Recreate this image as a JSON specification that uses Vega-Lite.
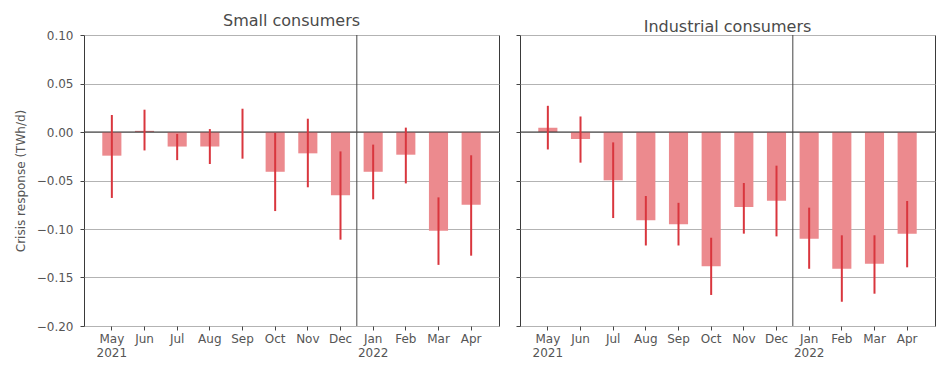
{
  "$schema": "https://vega.github.io/schema/vega-lite/v6.json",
  "padding": {"left": 13, "top": 12, "right": 5, "bottom": 5},
  "background": "white",
  "config": {
    "font": "DejaVu Sans",
    "view": {"stroke": "#3a3a3a", "strokeWidth": 1},
    "axis": {
      "labelFontSize": 12,
      "labelColor": "#555555",
      "titleColor": "#555555",
      "titleFontSize": 12,
      "titleFontWeight": "normal",
      "tickColor": "#444444",
      "tickSize": 4,
      "domain": false
    },
    "title": {"fontSize": 16, "fontWeight": "normal", "color": "#4a4a4a", "offset": 0, "dy": 4}
  },
  "datasets": {
    "small": [
      {"month": "May|2021", "value": -0.0244, "lo": -0.068, "hi": 0.0175},
      {"month": "Jun|", "value": 0.0012, "lo": -0.019, "hi": 0.023},
      {"month": "Jul|", "value": -0.015, "lo": -0.029, "hi": -0.002},
      {"month": "Aug|", "value": -0.015, "lo": -0.033, "hi": 0.003},
      {"month": "Sep|", "value": 0.0, "lo": -0.0275, "hi": 0.024},
      {"month": "Oct|", "value": -0.041, "lo": -0.0815, "hi": -0.001},
      {"month": "Nov|", "value": -0.022, "lo": -0.057, "hi": 0.0137},
      {"month": "Dec|", "value": -0.0653, "lo": -0.111, "hi": -0.02},
      {"month": "Jan|2022", "value": -0.041, "lo": -0.0694, "hi": -0.013},
      {"month": "Feb|", "value": -0.0234, "lo": -0.053, "hi": 0.0045},
      {"month": "Mar|", "value": -0.1017, "lo": -0.137, "hi": -0.0674},
      {"month": "Apr|", "value": -0.075, "lo": -0.1275, "hi": -0.024}
    ],
    "industrial": [
      {"month": "May|2021", "value": 0.0045, "lo": -0.018, "hi": 0.027},
      {"month": "Jun|", "value": -0.0072, "lo": -0.0316, "hi": 0.016},
      {"month": "Jul|", "value": -0.0498, "lo": -0.0887, "hi": -0.0107},
      {"month": "Aug|", "value": -0.091, "lo": -0.117, "hi": -0.066},
      {"month": "Sep|", "value": -0.095, "lo": -0.117, "hi": -0.073},
      {"month": "Oct|", "value": -0.1385, "lo": -0.168, "hi": -0.109},
      {"month": "Nov|", "value": -0.0773, "lo": -0.1048, "hi": -0.0526},
      {"month": "Dec|", "value": -0.0708, "lo": -0.1076, "hi": -0.0347},
      {"month": "Jan|2022", "value": -0.11, "lo": -0.141, "hi": -0.078},
      {"month": "Feb|", "value": -0.141, "lo": -0.175, "hi": -0.1065},
      {"month": "Mar|", "value": -0.1357, "lo": -0.1667, "hi": -0.1065},
      {"month": "Apr|", "value": -0.1048, "lo": -0.1395, "hi": -0.0711}
    ],
    "divider": [{"month": "Jan|2022"}],
    "zero": [{"v": 0}]
  },
  "spacing": 15,
  "hconcat": [
    {
      "title": "Small consumers",
      "width": 415,
      "height": 291,
      "layer": [
        {
          "data": {"name": "small"},
          "mark": {"type": "bar", "color": "#ec8a8e"},
          "encoding": {
            "x": {"field": "month", "type": "ordinal",
              "sort": ["May|2021", "Jun|", "Jul|", "Aug|", "Sep|", "Oct|", "Nov|", "Dec|", "Jan|2022", "Feb|", "Mar|", "Apr|"],
              "scale": {"paddingInner": 0.415, "paddingOuter": 0.56},
              "axis": {"title": null, "labelAngle": 0, "labelPadding": 3, "labelExpr": "split(datum.value, '|')", "labelLineHeight": 14}},
            "y": {"field": "value", "type": "quantitative",
              "scale": {"domain": [-0.2, 0.1], "nice": false},
              "axis": {"title": "Crisis response (TWh/d)", "values": [-0.2, -0.15, -0.1, -0.05, 0, 0.05, 0.1], "format": ".2f", "grid": true, "gridColor": "#b3b3b3", "labelPadding": 7, "titlePadding": 9}}
          }
        },
        {
          "data": {"name": "zero"},
          "mark": {"type": "rule", "color": "#333333", "strokeWidth": 1},
          "encoding": {"y": {"field": "v", "type": "quantitative"}}
        },
        {
          "data": {"name": "divider"},
          "mark": {"type": "rule", "color": "#444444", "strokeWidth": 1},
          "encoding": {"x": {"field": "month", "type": "ordinal", "bandPosition": -0.355,
            "sort": ["May|2021", "Jun|", "Jul|", "Aug|", "Sep|", "Oct|", "Nov|", "Dec|", "Jan|2022", "Feb|", "Mar|", "Apr|"]}}
        },
        {
          "data": {"name": "small"},
          "mark": {"type": "rule", "color": "#d9363e", "strokeWidth": 2},
          "encoding": {
            "x": {"field": "month", "type": "ordinal",
              "sort": ["May|2021", "Jun|", "Jul|", "Aug|", "Sep|", "Oct|", "Nov|", "Dec|", "Jan|2022", "Feb|", "Mar|", "Apr|"]},
            "y": {"field": "lo", "type": "quantitative"},
            "y2": {"field": "hi"}
          }
        }
      ]
    },
    {
      "title": "Industrial consumers",
      "width": 415,
      "height": 291,
      "layer": [
        {
          "data": {"name": "industrial"},
          "mark": {"type": "bar", "color": "#ec8a8e"},
          "encoding": {
            "x": {"field": "month", "type": "ordinal",
              "sort": ["May|2021", "Jun|", "Jul|", "Aug|", "Sep|", "Oct|", "Nov|", "Dec|", "Jan|2022", "Feb|", "Mar|", "Apr|"],
              "scale": {"paddingInner": 0.415, "paddingOuter": 0.56},
              "axis": {"title": null, "labelAngle": 0, "labelPadding": 3, "labelExpr": "split(datum.value, '|')", "labelLineHeight": 14}},
            "y": {"field": "value", "type": "quantitative",
              "scale": {"domain": [-0.2, 0.1], "nice": false},
              "axis": {"title": null, "labels": false, "values": [-0.2, -0.15, -0.1, -0.05, 0, 0.05, 0.1], "grid": true, "gridColor": "#b3b3b3"}}
          }
        },
        {
          "data": {"name": "zero"},
          "mark": {"type": "rule", "color": "#333333", "strokeWidth": 1},
          "encoding": {"y": {"field": "v", "type": "quantitative"}}
        },
        {
          "data": {"name": "divider"},
          "mark": {"type": "rule", "color": "#444444", "strokeWidth": 1},
          "encoding": {"x": {"field": "month", "type": "ordinal", "bandPosition": -0.355,
            "sort": ["May|2021", "Jun|", "Jul|", "Aug|", "Sep|", "Oct|", "Nov|", "Dec|", "Jan|2022", "Feb|", "Mar|", "Apr|"]}}
        },
        {
          "data": {"name": "industrial"},
          "mark": {"type": "rule", "color": "#d9363e", "strokeWidth": 2},
          "encoding": {
            "x": {"field": "month", "type": "ordinal",
              "sort": ["May|2021", "Jun|", "Jul|", "Aug|", "Sep|", "Oct|", "Nov|", "Dec|", "Jan|2022", "Feb|", "Mar|", "Apr|"]},
            "y": {"field": "lo", "type": "quantitative"},
            "y2": {"field": "hi"}
          }
        }
      ]
    }
  ]
}
